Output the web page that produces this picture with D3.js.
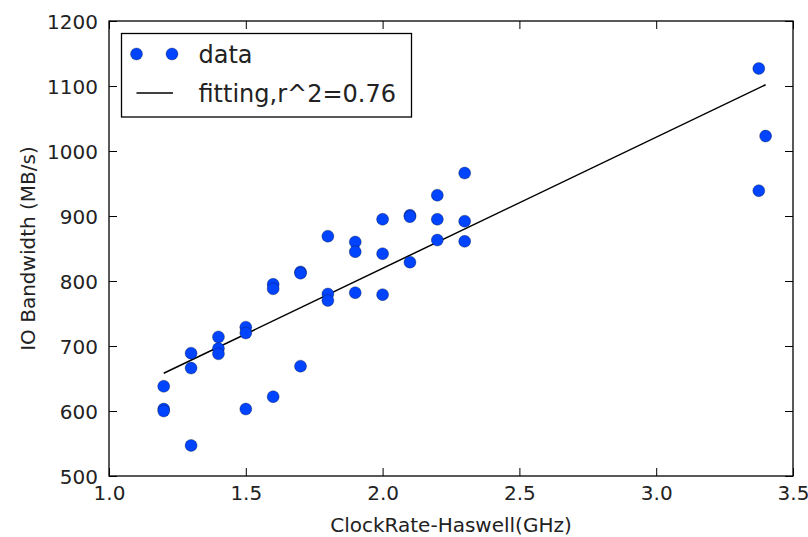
<!DOCTYPE html>
<html>
<head>
<meta charset="utf-8">
<script src="https://cdn.jsdelivr.net/npm/d3@7"></script>
<style>
  body { margin: 0; background: #fff; }
  svg { display: block; font-family: "DejaVu Sans", sans-serif; }
</style>
</head>
<body>
<div id="chart"></div>
<script>
// measured points: clock rate (GHz) and IO bandwidth (MB/s)
const clockRates = [1.2, 1.2, 1.2, 1.3, 1.3, 1.3, 1.4, 1.4, 1.4, 1.5, 1.5, 1.5,
  1.6, 1.6, 1.6, 1.7, 1.7, 1.7, 1.8, 1.8, 1.8, 1.9, 1.9, 1.9, 2.0, 2.0, 2.0,
  2.1, 2.1, 2.1, 2.2, 2.2, 2.2, 2.3, 2.3, 2.3, 3.375, 3.4, 3.375];
const bandwidths = [638, 603, 600, 689, 666, 547, 714, 696, 688, 729, 720, 603,
  795, 788, 622, 814, 812, 669, 869, 780, 770, 860, 845, 782, 895, 842, 779,
  901, 899, 829, 932, 895, 863, 966, 892, 861, 1127, 1023, 939];

// fitted line end points
const fitX = [1.2, 3.4];
const fitY = [658, 1102];

const xTicks = [1.0, 1.5, 2.0, 2.5, 3.0, 3.5];
const yTicks = [500, 600, 700, 800, 900, 1000, 1100, 1200];
const legendLabels = ["data", "fitting,r^2=0.76"];

const width = 808, height = 537;
const margin = { left: 109, right: 793, top: 21, bottom: 476 };
const blue = "#0044ff";

const svg = d3.select("#chart").append("svg")
  .attr("width", width)
  .attr("height", height);

const x = d3.scaleLinear().domain([1.0, 3.5]).range([margin.left, margin.right]);
const y = d3.scaleLinear().domain([500, 1200]).range([margin.bottom, margin.top]);

// axes with inward ticks on all four sides
const xAxis = svg.append("g")
  .attr("transform", `translate(0,${margin.bottom})`)
  .call(d3.axisBottom(x).tickValues(xTicks).tickFormat(d3.format(".1f"))
    .tickSizeInner(-8).tickSizeOuter(0).tickPadding(10));

const yAxis = svg.append("g")
  .attr("transform", `translate(${margin.left},0)`)
  .call(d3.axisLeft(y).tickValues(yTicks).tickFormat(d3.format("d"))
    .tickSizeInner(-8).tickSizeOuter(0).tickPadding(11));

svg.append("g")
  .attr("transform", `translate(0,${margin.top})`)
  .call(d3.axisTop(x).tickValues(xTicks).tickFormat("").tickSizeInner(-8).tickSizeOuter(0));

svg.append("g")
  .attr("transform", `translate(${margin.right},0)`)
  .call(d3.axisRight(y).tickValues(yTicks).tickFormat("").tickSizeInner(-8).tickSizeOuter(0));

svg.selectAll(".domain").remove();
svg.selectAll(".tick line").attr("stroke", "#000").attr("stroke-width", 1);
svg.selectAll(".tick text")
  .style("font-family", "'DejaVu Sans', sans-serif")
  .style("font-size", "20px")
  .attr("fill", "#222");
yAxis.selectAll(".tick text").attr("dy", "0.36em");

// frame
svg.append("rect")
  .attr("x", margin.left)
  .attr("y", margin.top)
  .attr("width", margin.right - margin.left)
  .attr("height", margin.bottom - margin.top)
  .attr("fill", "none")
  .attr("stroke", "#000")
  .attr("stroke-width", 1.3);

// fitted line
const line = d3.line().x(d => x(d[0])).y(d => y(d[1]));
svg.append("path")
  .datum(fitX.map((v, i) => [v, fitY[i]]))
  .attr("d", line)
  .attr("fill", "none")
  .attr("stroke", "#000")
  .attr("stroke-width", 1.5);

// data points
svg.append("g")
  .selectAll("circle")
  .data(clockRates.map((v, i) => [v, bandwidths[i]]))
  .join("circle")
  .attr("cx", d => x(d[0]))
  .attr("cy", d => y(d[1]))
  .attr("r", 6)
  .attr("fill", blue)
  .attr("stroke", "#000")
  .attr("stroke-opacity", 0.6)
  .attr("stroke-width", 0.5);

// axis labels
svg.append("text")
  .attr("x", (margin.left + margin.right) / 2)
  .attr("y", 532)
  .attr("text-anchor", "middle")
  .style("font-size", "20px")
  .attr("fill", "#222")
  .text("ClockRate-Haswell(GHz)");

svg.append("text")
  .attr("transform", `translate(35,${(margin.top + margin.bottom) / 2}) rotate(-90)`)
  .attr("text-anchor", "middle")
  .style("font-size", "20px")
  .attr("fill", "#222")
  .text("IO Bandwidth (MB/s)");

// legend
const legend = svg.append("g");
legend.append("rect")
  .attr("x", 121.5)
  .attr("y", 33.5)
  .attr("width", 290)
  .attr("height", 83.5)
  .attr("fill", "#fff")
  .attr("stroke", "#000")
  .attr("stroke-width", 1.3);

legend.selectAll("circle")
  .data([136.5, 172])
  .join("circle")
  .attr("cx", d => d)
  .attr("cy", 54)
  .attr("r", 6)
  .attr("fill", blue)
  .attr("stroke", "#000")
  .attr("stroke-opacity", 0.6)
  .attr("stroke-width", 0.5);

legend.append("line")
  .attr("x1", 136.5)
  .attr("x2", 173)
  .attr("y1", 93)
  .attr("y2", 93)
  .attr("stroke", "#000")
  .attr("stroke-width", 1.5);

legend.selectAll("text")
  .data(legendLabels)
  .join("text")
  .attr("x", 198.5)
  .attr("y", (_, i) => i === 0 ? 63 : 101.5)
  .style("font-size", "24px")
  .attr("fill", "#222")
  .text(d => d);
</script>
</body>
</html>
